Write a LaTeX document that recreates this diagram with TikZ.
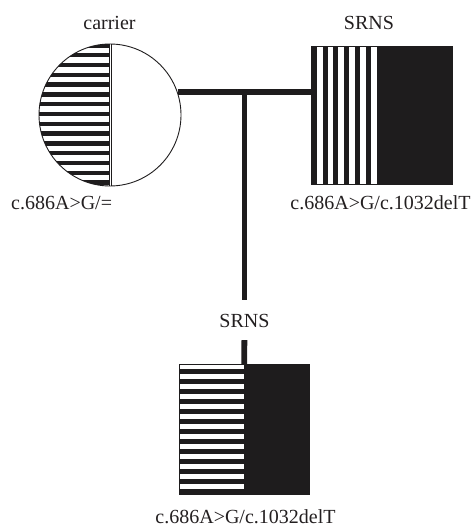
\documentclass[tikz,border=0pt]{standalone}
\usepackage{fontspec}
\setmainfont{Liberation Serif}
\definecolor{ink}{RGB}{30,28,29}
\definecolor{txt}{RGB}{35,31,32}
\begin{document}
\begin{tikzpicture}[x=1pt,y=-1pt,
  lbl/.style={inner sep=0pt,text=txt,font=\fontsize{20}{24}\selectfont},
  link/.style={draw=ink,line width=5.8pt},
  outline/.style={draw=ink,line width=0.9pt}]
\useasboundingbox (0,0) rectangle (474,526);

% ---- mother (circle), left half striped
\begin{scope}
  \clip (110,115) circle[radius=71pt];
  \clip (30,40) rectangle (110,190);
  \foreach \k in {-1,...,13}
    \fill[ink] (30,{53+9.8*\k}) rectangle (110,{57.5+9.8*\k});
\end{scope}
\node[circle,minimum size=142pt,inner sep=0pt,outline] (mom) at (110,115) {};
\draw[ink,line width=0.8pt] (109.2,44) -- (109.2,186);
\draw[ink,line width=0.8pt] (111.8,44) -- (111.8,186);

% ---- father (square), vertical stripes + black half
\foreach \k in {0,...,5}
  \fill[ink] ({311.7+10.83*\k},46.7) rectangle ({316.7+10.83*\k},184.3);
\fill[ink] (377,46.7) rectangle (452,184.3);
\node[rectangle,minimum width=140.3pt,minimum height=137.6pt,inner sep=0pt,
      draw=ink,line width=0.5pt] (dad) at (381.85,115.5) {};

% ---- child (square), horizontal stripes + black half
\foreach \k in {0,...,12}
  \fill[ink] (179.3,{369+10*\k}) rectangle (244.2,{373.7+10*\k});
\fill[ink] (244.2,364.3) rectangle (309,494.3);
\node[rectangle,minimum width=129.7pt,minimum height=130pt,inner sep=0pt,
      draw=ink,line width=0.5pt] (kid) at (244.15,429.3) {};

% ---- labels
\node[lbl,anchor=base] (lcarrier) at (109.5,30) {carrier};
\node[lbl,anchor=base] (ldad) at (369,30) {SRNS};
\node[lbl,anchor=base west] (lmomg) at (11,210) {c.686A>G/=};
\node[lbl,anchor=base] (ldadg) at (380.5,209.5) {c.686A>G/c.1032delT};
\node[lbl,anchor=base] (lkidg) at (245.5,523) {c.686A>G/c.1032delT};
\node[lbl,minimum height=40pt,text height=14pt,text depth=0pt] (lkid) at (244.4,320) {SRNS};

% ---- connectors
\coordinate (mid) at (244.4,91.3);
\draw[link] (mom.19.8) -- (mom.19.8 -| dad.west);
\draw[link] (mid) -- (lkid.north);
\draw[link] (lkid.south) -- (kid.north);
\end{tikzpicture}
\end{document}
